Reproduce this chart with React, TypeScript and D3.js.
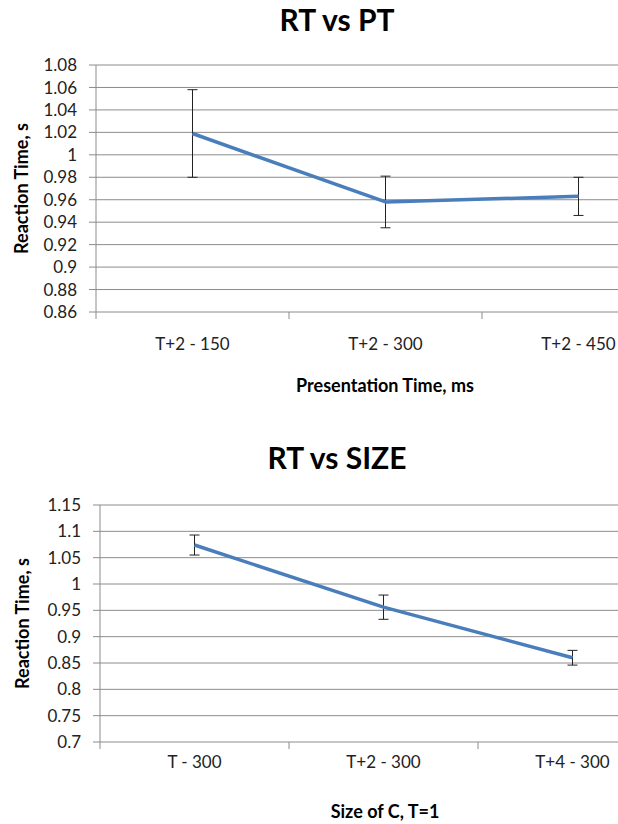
import React from "react";
import * as d3 from "d3";

const W = 618;
const H = 824;
const FONT = "Lato, 'Open Sans', sans-serif";

// chart 1: RT vs PT
const ptCategories = ["T+2 - 150", "T+2 - 300", "T+2 - 450"];
const ptMeans = [1.019, 0.958, 0.963];
const ptErrors = [0.039, 0.023, 0.017];
const ptTicks = [0.86, 0.88, 0.9, 0.92, 0.94, 0.96, 0.98, 1, 1.02, 1.04, 1.06, 1.08];

// chart 2: RT vs SIZE
const sizeCategories = ["T - 300", "T+2 - 300", "T+4 - 300"];
const sizeMeans = [1.074, 0.956, 0.86];
const sizeErrors = [0.019, 0.023, 0.014];
const sizeTicks = [0.7, 0.75, 0.8, 0.85, 0.9, 0.95, 1, 1.05, 1.1, 1.15];

const fmt = d3.format("~g");

type PanelProps = {
  title: string;
  xTitle: string;
  categories: string[];
  means: number[];
  errors: number[];
  ticks: number[];
  layout: {
    titleY: number;
    top: number;
    bottom: number;
    left: number;
    catW: number;
    xLabelY: number;
    xTitleY: number;
    yTitleX: number;
  };
};

function Panel({ title, xTitle, categories, means, errors, ticks, layout }: PanelProps) {
  const { top, bottom, left, catW } = layout;
  const right = left + catW * categories.length;
  const x = d3.scaleBand().domain(categories).range([left, right]).padding(0);
  const y = d3
    .scaleLinear()
    .domain([ticks[0], ticks[ticks.length - 1]])
    .range([bottom, top]);
  const cx = (c: string) => (x(c) as number) + x.bandwidth() / 2;

  const line = d3
    .line<number>()
    .x((_, i) => cx(categories[i]))
    .y(d => y(d));

  const boundaries = d3.range(categories.length + 1).map(i => left + i * x.bandwidth());

  return (
    <g fontFamily={FONT}>
      <text x={337} y={layout.titleY} textAnchor="middle" fontSize={30} fontWeight="bold" fill="#000">
        {title}
      </text>
      {ticks.map(t => (
        <g key={t}>
          <line x1={left} x2={right} y1={y(t)} y2={y(t)} stroke="#8c8c8c" strokeWidth={1} />
          <line x1={left - 7} x2={left} y1={y(t)} y2={y(t)} stroke="#8c8c8c" strokeWidth={1} />
          <text x={left - 19} y={y(t)} dy="0.36em" textAnchor="end" fontSize={17} fill="#222">
            {fmt(t)}
          </text>
        </g>
      ))}
      <line x1={left} x2={left} y1={top} y2={bottom} stroke="#8c8c8c" strokeWidth={1} />
      {boundaries.map(b => (
        <line key={b} x1={b} x2={b} y1={bottom} y2={bottom + 7} stroke="#8c8c8c" strokeWidth={1} />
      ))}
      {categories.map(c => (
        <text key={c} x={cx(c)} y={layout.xLabelY} textAnchor="middle" fontSize={17} fill="#222">
          {c}
        </text>
      ))}
      {means.map((m, i) => {
        const px = cx(categories[i]);
        const y1 = y(m + errors[i]);
        const y2 = y(m - errors[i]);
        return (
          <g key={i} stroke="#222" strokeWidth={1}>
            <line x1={px} x2={px} y1={y1} y2={y2} />
            <line x1={px - 5} x2={px + 5} y1={y1} y2={y1} />
            <line x1={px - 5} x2={px + 5} y1={y2} y2={y2} />
          </g>
        );
      })}
      <path d={line(means) || ""} fill="none" stroke="#4a7ebb" strokeWidth={3.5} strokeLinejoin="round" />
      <text x={385} y={layout.xTitleY} textAnchor="middle" fontSize={18} fontWeight="bold" fill="#000">
        {xTitle}
      </text>
      <text
        transform={`translate(${layout.yTitleX},${(top + bottom) / 2}) rotate(-90)`}
        dy="0.35em"
        textAnchor="middle"
        fontSize={18}
        fontWeight="bold"
        fill="#000"
      >
        Reaction Time, s
      </text>
    </g>
  );
}

export default function App() {
  return (
    <svg
      width={W}
      height={H}
      style={{ position: "absolute", left: 0, top: 0, background: "#fff" }}
    >
      <rect width={W} height={H} fill="#fff" />
      <Panel
        title="RT vs PT"
        xTitle="Presentation Time, ms"
        categories={ptCategories}
        means={ptMeans}
        errors={ptErrors}
        ticks={ptTicks}
        layout={{ titleY: 31, top: 65, bottom: 312, left: 96, catW: 193, xLabelY: 350, xTitleY: 392, yTitleX: 22 }}
      />
      <Panel
        title="RT vs SIZE"
        xTitle="Size of C, T=1"
        categories={sizeCategories}
        means={sizeMeans}
        errors={sizeErrors}
        ticks={sizeTicks}
        layout={{ titleY: 469, top: 505, bottom: 742, left: 100, catW: 189, xLabelY: 768, xTitleY: 818, yTitleX: 23 }}
      />
    </svg>
  );
}
